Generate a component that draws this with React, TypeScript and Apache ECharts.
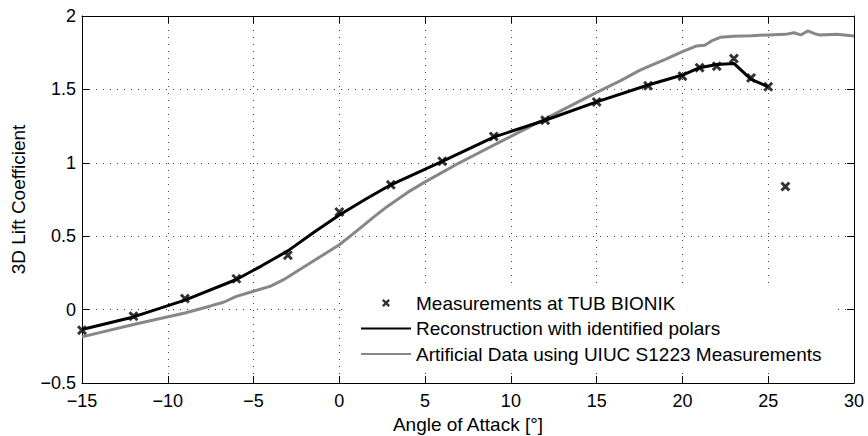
import React, { useEffect, useRef } from "react";
import * as echarts from "echarts";

const measX = [-15, -12, -9, -6, -3, 0, 3, 6, 9, 12, 15, 18, 20, 21, 22, 23, 24, 25, 26];
const measY = [-0.14, -0.045, 0.075, 0.21, 0.37, 0.665, 0.85, 1.01, 1.18, 1.29, 1.415, 1.525, 1.59, 1.648, 1.658, 1.71, 1.578, 1.518, 0.838];

const reconX = [-15, -12, -9, -6, -4.5, -3, -1.5, 0, 1.5, 3, 6, 9, 12, 15, 18, 20, 21, 22, 23, 24, 25];
const reconY = [-0.136, -0.05, 0.065, 0.205, 0.3, 0.4, 0.525, 0.645, 0.75, 0.85, 1.01, 1.175, 1.29, 1.415, 1.53, 1.598, 1.648, 1.67, 1.677, 1.568, 1.518];

const artX = [-15, -12, -9, -7.5, -6.75, -6, -5, -4, -3.25, -2, -1, 0, 1, 2, 2.8, 4, 5, 6, 7, 8, 9, 10, 11, 12, 13.5, 15, 16.4, 17.5, 18, 19, 20, 20.8, 21.3, 21.7, 22.2, 23, 24, 25, 26, 26.5, 26.9, 27.3, 27.7, 28, 29, 30];
const artY = [-0.186, -0.102, -0.023, 0.025, 0.05, 0.09, 0.125, 0.16, 0.204, 0.295, 0.368, 0.442, 0.535, 0.63, 0.703, 0.8, 0.87, 0.935, 1.0, 1.06, 1.12, 1.18, 1.24, 1.3, 1.39, 1.48, 1.56, 1.63, 1.655, 1.705, 1.757, 1.795, 1.8, 1.83, 1.855, 1.862, 1.866, 1.871, 1.875, 1.886, 1.871, 1.898, 1.88, 1.871, 1.875, 1.864];

const seriesNames = [
  "Measurements at TUB BIONIK",
  "Reconstruction with identified polars",
  "Artificial Data using UIUC S1223 Measurements",
];

const xTicks = { min: -15, max: 30, interval: 5 };
const yTicks = { min: -0.5, max: 2, interval: 0.5 };

const FONT = "'Liberation Sans', Arial, Helvetica, sans-serif";
const CROSS = "path://M0,2.5 L2.5,0 L6,3.5 L9.5,0 L12,2.5 L8.5,6 L12,9.5 L9.5,12 L6,8.5 L2.5,12 L0,9.5 L3.5,6 Z";

const pairs = (xs: number[], ys: number[]) => xs.map((x, i) => [x, ys[i]]);
const minusFmt = (v: number) => String(v).replace("-", "\u2212");

export default function App() {
  const ref = useRef<HTMLDivElement>(null);
  useEffect(() => {
    document.body.style.margin = "0";
    const chart = echarts.init(ref.current!, null, { renderer: "svg" });
    const axisLine = { show: true, onZero: false, lineStyle: { color: "#000", width: 1 } };
    const tick = { show: true, inside: true, length: 7, lineStyle: { color: "#000", width: 1 } };
    chart.setOption({
      animation: false,
      backgroundColor: "#fff",
      grid: { left: 82, right: 14, top: 16, bottom: 53, containLabel: false, outerBoundsMode: "none" },
      xAxis: [
        {
          type: "value",
          ...xTicks,
          position: "bottom",
          axisLine,
          axisTick: tick,
          axisLabel: { color: "#000", fontSize: 18, fontFamily: FONT, margin: 9, formatter: minusFmt },
          splitLine: { show: true, lineStyle: { color: "#444", width: 1, type: [1, 6] } },
          name: "Angle of Attack [°]",
          nameLocation: "middle",
          nameGap: 29,
          nameTextStyle: { color: "#000", fontSize: 19, fontFamily: FONT },
        },
        {
          type: "value",
          ...xTicks,
          position: "top",
          axisLine,
          axisTick: tick,
          axisLabel: { show: false },
          splitLine: { show: false },
        },
      ],
      yAxis: [
        {
          type: "value",
          ...yTicks,
          position: "left",
          axisLine,
          axisTick: tick,
          axisLabel: { color: "#000", fontSize: 18, fontFamily: FONT, margin: 6, formatter: minusFmt },
          splitLine: { show: true, lineStyle: { color: "#444", width: 1, type: [1, 6] } },
          name: "3D Lift Coefficient",
          nameLocation: "middle",
          nameGap: 54,
          nameTextStyle: { color: "#000", fontSize: 19, fontFamily: FONT },
        },
        {
          type: "value",
          ...yTicks,
          position: "right",
          axisLine,
          axisTick: tick,
          axisLabel: { show: false },
          splitLine: { show: false },
        },
      ],
      legend: {
        orient: "vertical",
        left: 342,
        top: 288.5,
        padding: [5, 15, 8, 18],
        backgroundColor: "#fff",
        borderWidth: 0,
        itemWidth: 50,
        itemHeight: 8,
        itemGap: 6.5,
        selectedMode: false,
        textStyle: { color: "#000", fontSize: 19, lineHeight: 19, fontFamily: FONT },
        data: [
          { name: seriesNames[0], icon: CROSS, itemStyle: { color: "#000" } },
          { name: seriesNames[1], itemStyle: { opacity: 0 } },
          { name: seriesNames[2], itemStyle: { opacity: 0 } },
        ],
      },
      series: [
        {
          name: seriesNames[2],
          type: "line",
          data: pairs(artX, artY),
          symbol: "none",
          lineStyle: { color: "#878787", width: 3 },
          itemStyle: { color: "#878787" },
          z: 2,
        },
        {
          name: seriesNames[1],
          type: "line",
          data: pairs(reconX, reconY),
          symbol: "none",
          lineStyle: { color: "#000", width: 3 },
          itemStyle: { color: "#000" },
          z: 3,
        },
        {
          name: seriesNames[0],
          type: "scatter",
          data: pairs(measX, measY),
          symbol: CROSS,
          symbolSize: 10,
          itemStyle: { color: "#000" },
          z: 4,
        },
      ],
    });
    return () => chart.dispose();
  }, []);
  return <div ref={ref} style={{ width: 868, height: 436 }} />;
}
